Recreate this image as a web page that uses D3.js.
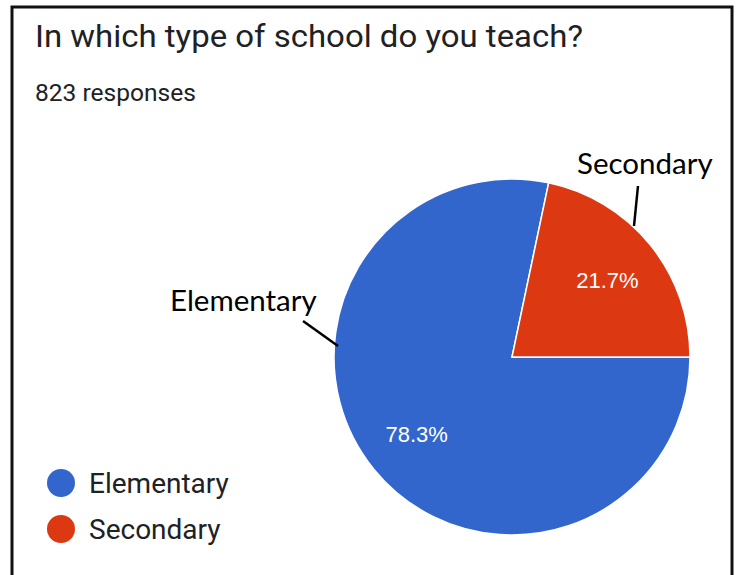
<!DOCTYPE html>
<html>
<head>
<meta charset="utf-8">
<script src="https://cdn.jsdelivr.net/npm/d3@7"></script>
<style>
  html, body { margin: 0; padding: 0; background: #fff; }
  svg { display: block; }
</style>
</head>
<body>
<svg id="chart" width="739" height="575"></svg>
<script>
// Survey question and response counts
const title = "In which type of school do you teach?";
const subtitle = "823 responses";
const categories = ["Elementary", "Secondary"];
const shares = [78.3, 21.7];
const colors = ["#3366cc", "#dc3912"];

const svg = d3.select("#chart");

// Frame around the card
svg.append("rect")
  .attr("x", 12).attr("y", 7)
  .attr("width", 720).attr("height", 600)
  .attr("fill", "#fff")
  .attr("stroke", "#111").attr("stroke-width", 3);

svg.append("text")
  .attr("x", 35).attr("y", 47)
  .attr("font-family", "Roboto, Arial, sans-serif")
  .attr("font-size", 31.5)
  .attr("textLength", 548)
  .attr("lengthAdjust", "spacingAndGlyphs")
  .attr("fill", "#202124")
  .text(title);

svg.append("text")
  .attr("x", 35).attr("y", 101)
  .attr("font-family", "Roboto, Arial, sans-serif")
  .attr("font-size", 23)
  .attr("textLength", 161)
  .attr("lengthAdjust", "spacingAndGlyphs")
  .attr("fill", "#202124")
  .text(subtitle);

// Pie
const cx = 512, cy = 357, r = 178;
const data = categories.map((c, i) => ({ name: c, value: shares[i], color: colors[i] }));
const pie = d3.pie().sort(null).value(d => d.value)
  .startAngle(Math.PI / 2).endAngle(Math.PI / 2 + 2 * Math.PI);
const arcs = pie(data);
const arc = d3.arc().innerRadius(0).outerRadius(r);
const labelArc = d3.arc().innerRadius(r * 0.69).outerRadius(r * 0.69);

const g = svg.append("g").attr("transform", `translate(${cx},${cy})`);
g.selectAll("path.slice")
  .data(arcs)
  .join("path")
  .attr("class", "slice")
  .attr("d", arc)
  .attr("fill", d => d.data.color)
  .attr("stroke", "#fff")
  .attr("stroke-width", 1.5);

g.selectAll("text.pct")
  .data(arcs)
  .join("text")
  .attr("class", "pct")
  .attr("transform", d => `translate(${labelArc.centroid(d)})`)
  .attr("text-anchor", "middle")
  .attr("dy", "0.36em")
  .attr("font-family", "'Liberation Sans', Arial, sans-serif")
  .attr("font-size", 22)
  .attr("fill", "#fff")
  .text(d => d.data.value.toFixed(1) + "%");

// Legend
const legend = svg.append("g");
const legendRows = legend.selectAll("g")
  .data(data)
  .join("g")
  .attr("transform", (d, i) => `translate(61,${483 + i * 46})`);
legendRows.append("circle").attr("r", 14).attr("fill", d => d.color);
legendRows.append("text")
  .attr("x", 28).attr("y", 10)
  .attr("font-family", "Roboto, Arial, sans-serif")
  .attr("font-size", 28)
  .attr("fill", "#202124")
  .text(d => d.name);

// Callout labels
const callouts = [
  { name: "Secondary", tx: 577, ty: 174, line: [[638, 186], [634, 226]] },
  { name: "Elementary", tx: 170, ty: 311, line: [[303, 321], [338, 346]] }
];
callouts.forEach(c => {
  svg.append("text")
    .attr("x", c.tx).attr("y", c.ty)
    .attr("font-family", "Lato, 'Open Sans', sans-serif")
    .attr("font-size", 29.5)
    .attr("fill", "#000")
    .text(c.name);
  svg.append("line")
    .attr("x1", c.line[0][0]).attr("y1", c.line[0][1])
    .attr("x2", c.line[1][0]).attr("y2", c.line[1][1])
    .attr("stroke", "#000").attr("stroke-width", 2.5);
});
</script>
</body>
</html>
